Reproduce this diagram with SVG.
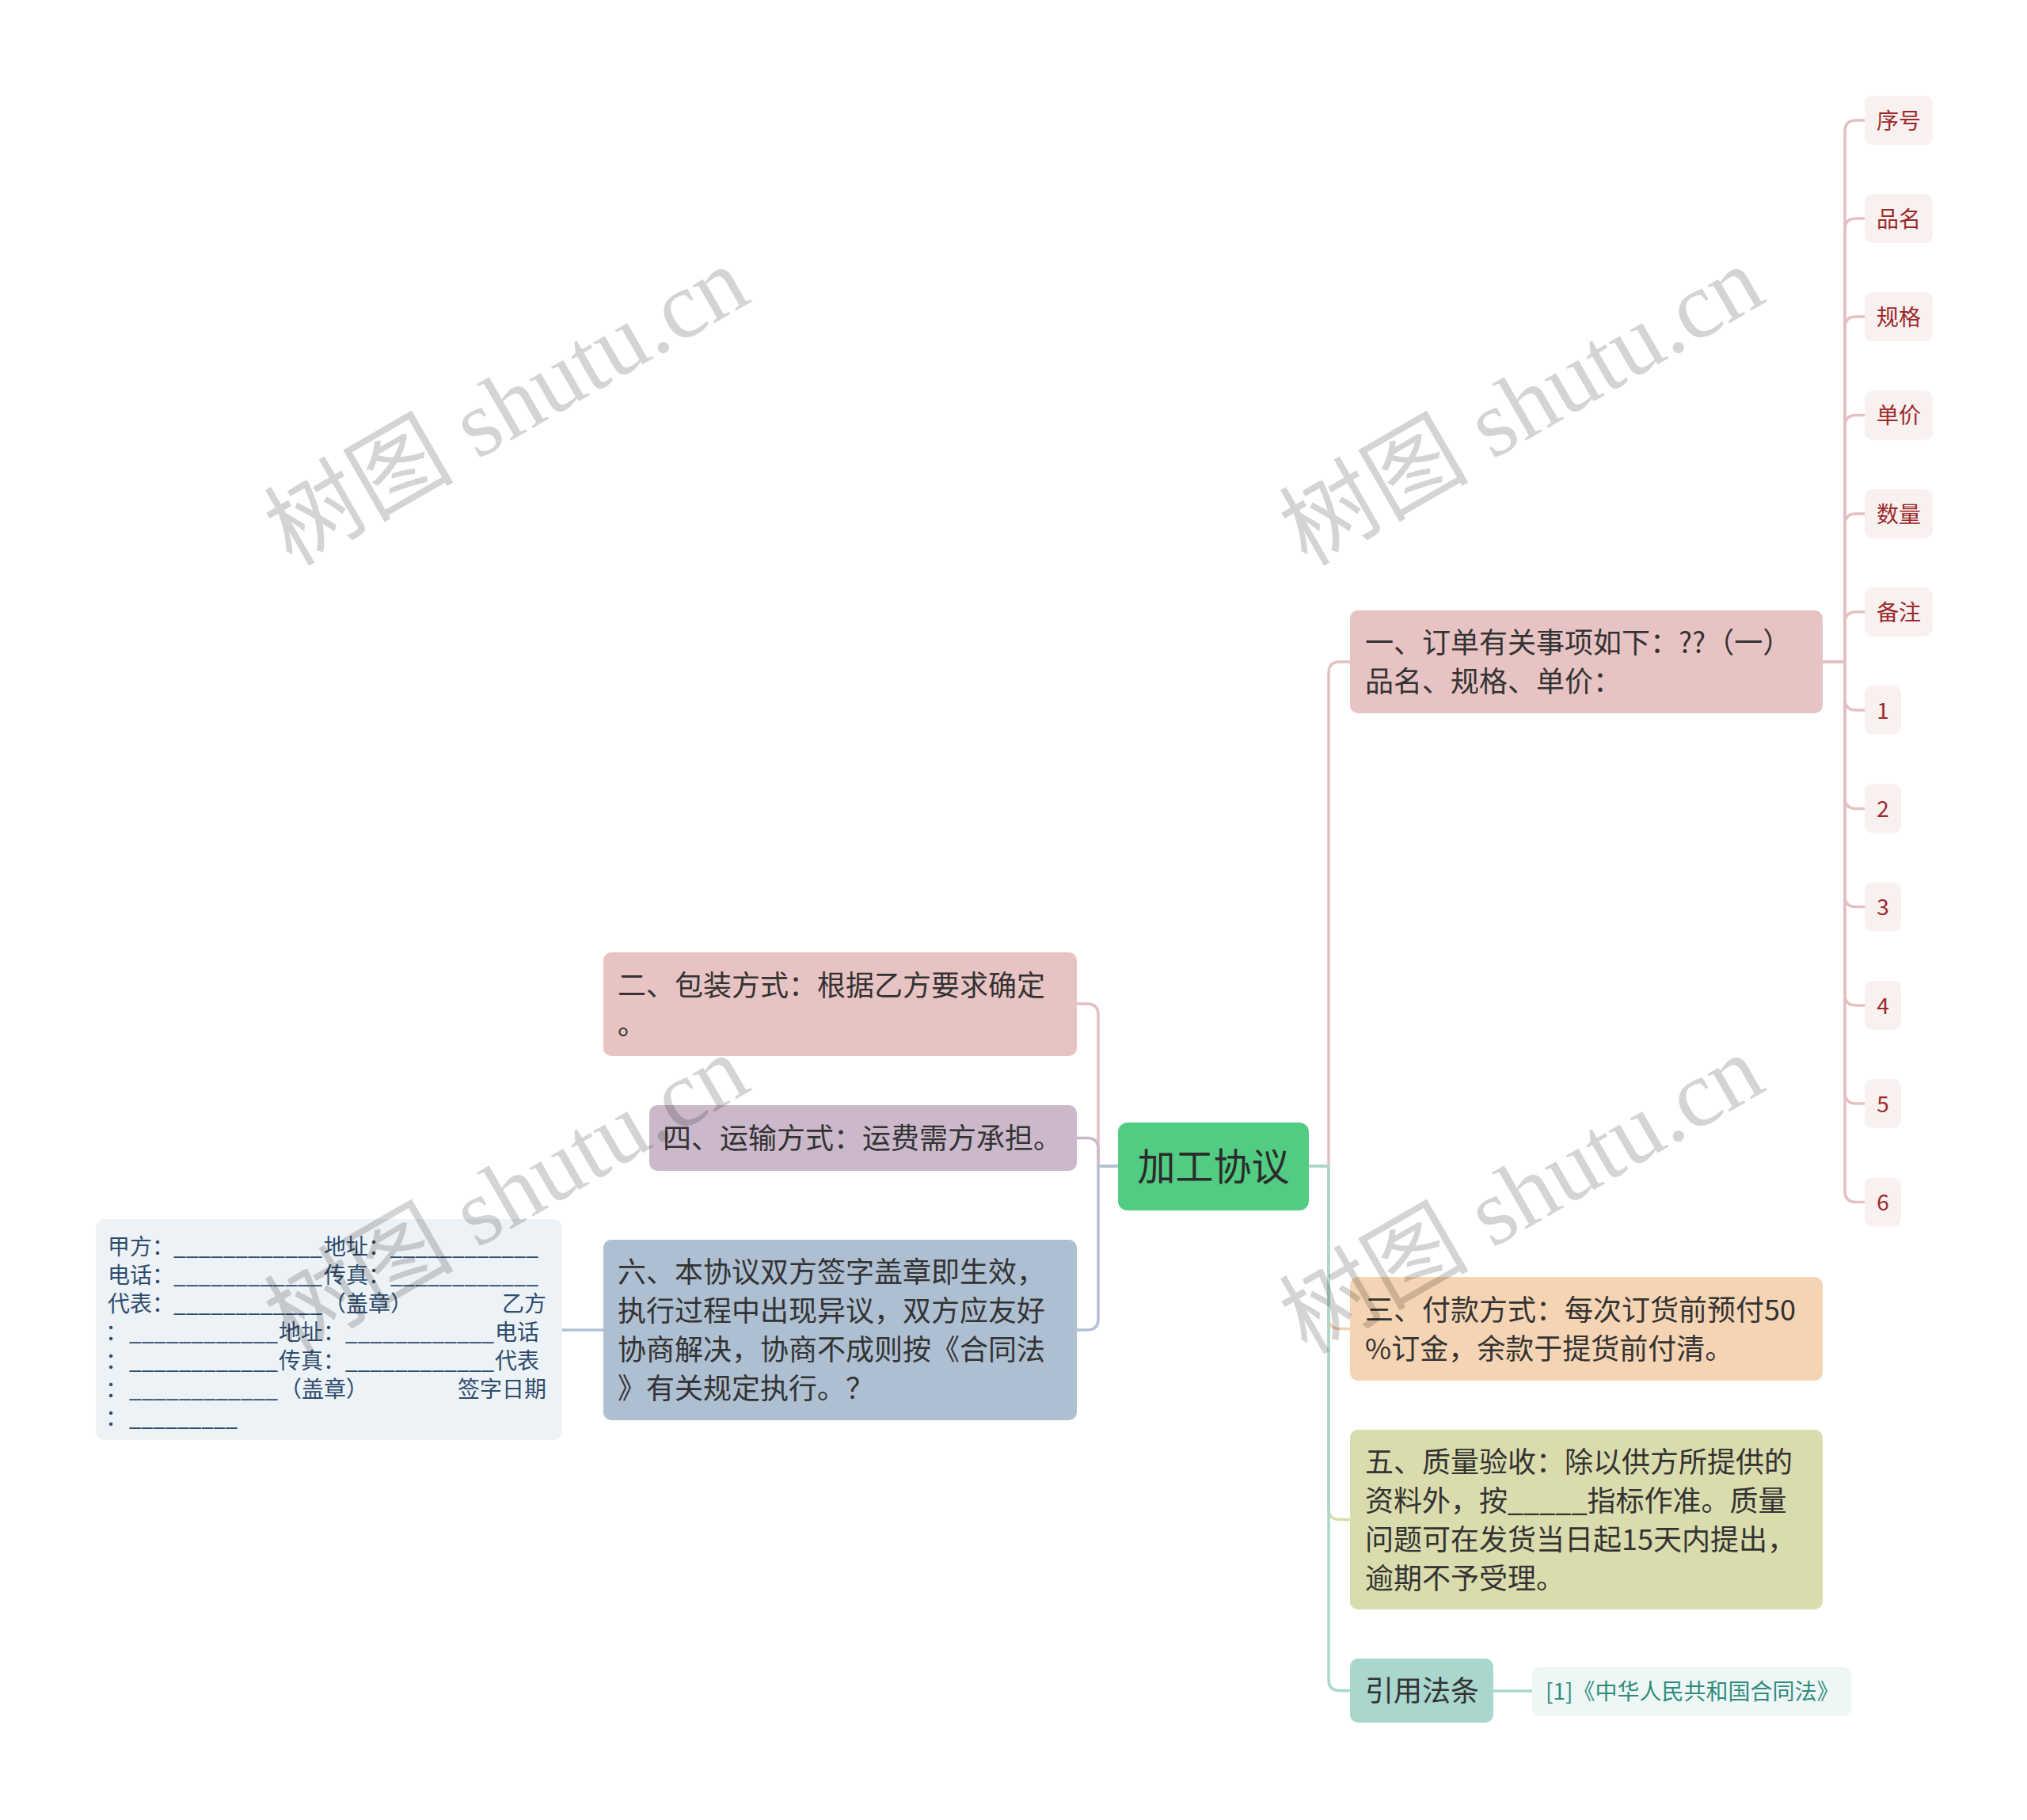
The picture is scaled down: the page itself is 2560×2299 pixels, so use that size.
<svg xmlns="http://www.w3.org/2000/svg" width="2560" height="2299" viewBox="0 0 2560 2299">
<style>
text{font-family:"Noto Sans CJK SC","Liberation Sans",sans-serif;}
.t36{font-size:36px;fill:#333333;}
.t48{font-size:48px;fill:#2b2b2b;}
.leaf{font-size:28px;fill:#9c2a2a;}
.lb{font-size:28px;fill:#2e4c6d;}
.cite{font-size:28px;fill:#2f8c7c;}
.wm{font-family:"Liberation Serif","Noto Sans CJK SC",serif;font-size:120px;fill:#000000;fill-opacity:0.17;}
.c{fill:none;stroke-width:3.5;stroke-linecap:round;stroke-linejoin:round;}
.pink{stroke:#e4c0c1;}
.mauve{stroke:#ccb9cc;}
.blue{stroke:#b1c1d3;}
.orange{stroke:#f2d0ae;}
.olive{stroke:#d9dbab;}
.teal{stroke:#a9d6cd;}
.leafbox{fill:#f9f0f0;}
</style>
<rect width="2560" height="2299" fill="#ffffff"/>
<g id="connectors">
  <path class="c pink" d="M1412 1473 H1387 V1282 Q1387 1268 1373 1268 H1360"/>
  <path class="c mauve" d="M1412 1473 H1387 V1451.5 Q1387 1437.5 1373 1437.5 H1360"/>
  <path class="c blue" d="M1412 1473 H1387 V1666 Q1387 1680 1373 1680 H1360"/>
  <path class="c blue" d="M762 1680 H710"/>
  <path class="c pink" d="M1653 1473 H1678 V850 Q1678 836 1692 836 H1705"/>
  <path class="c orange" d="M1653 1473 H1678 V1664.5 Q1678 1678.5 1692 1678.5 H1705"/>
  <path class="c olive" d="M1653 1473 H1678 V1905.5 Q1678 1919.5 1692 1919.5 H1705"/>
  <path class="c teal" d="M1653 1473 H1678 V2121.5 Q1678 2135.5 1692 2135.5 H1705"/>
  <path class="c teal" d="M1886 2136 H1935"/>
  <path class="c pink" d="M2302 836 H2330 V166 Q2330 152 2344 152 H2355"/>
  <path class="c pink" d="M2302 836 H2330 V290 Q2330 276 2344 276 H2355"/>
  <path class="c pink" d="M2302 836 H2330 V414 Q2330 400 2344 400 H2355"/>
  <path class="c pink" d="M2302 836 H2330 V538.5 Q2330 524.5 2344 524.5 H2355"/>
  <path class="c pink" d="M2302 836 H2330 V663 Q2330 649 2344 649 H2355"/>
  <path class="c pink" d="M2302 836 H2330 V787 Q2330 773 2344 773 H2355"/>
  <path class="c pink" d="M2302 836 H2330 V883 Q2330 897 2344 897 H2355"/>
  <path class="c pink" d="M2302 836 H2330 V1007.5 Q2330 1021.5 2344 1021.5 H2355"/>
  <path class="c pink" d="M2302 836 H2330 V1131.5 Q2330 1145.5 2344 1145.5 H2355"/>
  <path class="c pink" d="M2302 836 H2330 V1256 Q2330 1270 2344 1270 H2355"/>
  <path class="c pink" d="M2302 836 H2330 V1380 Q2330 1394 2344 1394 H2355"/>
  <path class="c pink" d="M2302 836 H2330 V1504.5 Q2330 1518.5 2344 1518.5 H2355"/>
</g>
<g id="node-center">
  <rect x="1412" y="1418" width="241" height="111" rx="12" fill="#52cc82"/>
  <text class="t48" x="1532.5" y="1491" text-anchor="middle">加工协议</text>
</g>
<g id="node-1">
  <rect x="1705" y="771" width="597" height="130" rx="10" fill="#e8c3c4"/>
  <text class="t36" x="1724" y="825">一、订单有关事项如下：??（一）</text>
  <text class="t36" x="1724" y="874">品名、规格、单价：</text>
</g>
<g id="node-2">
  <rect x="762" y="1203" width="598" height="131" rx="10" fill="#e8c3c4"/>
  <text class="t36" x="780" y="1258">二、包装方式：根据乙方要求确定</text>
  <text class="t36" x="780" y="1307">。</text>
</g>
<g id="node-4">
  <rect x="820" y="1396" width="540" height="83" rx="10" fill="#cbb9cb"/>
  <text class="t36" x="837" y="1451">四、运输方式：运费需方承担。</text>
</g>
<g id="node-6">
  <rect x="762" y="1566" width="598" height="228" rx="10" fill="#aebfd1"/>
  <text class="t36" x="780" y="1620">六、本协议双方签字盖章即生效，</text>
  <text class="t36" x="780" y="1669">执行过程中出现异议，双方应友好</text>
  <text class="t36" x="780" y="1718">协商解决，协商不成则按《合同法</text>
  <text class="t36" x="780" y="1767">》有关规定执行。？</text>
</g>
<g id="node-sign">
  <rect x="121" y="1540" width="589" height="279" rx="12" fill="#edf2f6"/>
  <text class="lb" x="136" y="1585">甲方：</text>
  <text class="lb" x="219" y="1585" textLength="188" lengthAdjust="spacingAndGlyphs">____________</text>
  <text class="lb" x="409" y="1585">地址：</text>
  <text class="lb" x="493" y="1585" textLength="187" lengthAdjust="spacingAndGlyphs">____________</text>
  <text class="lb" x="136" y="1621">电话：</text>
  <text class="lb" x="219" y="1621" textLength="188" lengthAdjust="spacingAndGlyphs">____________</text>
  <text class="lb" x="409" y="1621">传真：</text>
  <text class="lb" x="493" y="1621" textLength="187" lengthAdjust="spacingAndGlyphs">____________</text>
  <text class="lb" x="136" y="1657">代表：</text>
  <text class="lb" x="219" y="1657" textLength="188" lengthAdjust="spacingAndGlyphs">____________</text>
  <text class="lb" x="409" y="1657">（盖章）</text>
  <text class="lb" x="690" y="1657" text-anchor="end">乙方</text>
  <text class="lb" x="133" y="1693">：</text>
  <text class="lb" x="163" y="1693" textLength="188" lengthAdjust="spacingAndGlyphs">____________</text>
  <text class="lb" x="352" y="1693">地址：</text>
  <text class="lb" x="436" y="1693" textLength="188" lengthAdjust="spacingAndGlyphs">____________</text>
  <text class="lb" x="681" y="1693" text-anchor="end">电话</text>
  <text class="lb" x="133" y="1729">：</text>
  <text class="lb" x="163" y="1729" textLength="188" lengthAdjust="spacingAndGlyphs">____________</text>
  <text class="lb" x="352" y="1729">传真：</text>
  <text class="lb" x="436" y="1729" textLength="188" lengthAdjust="spacingAndGlyphs">____________</text>
  <text class="lb" x="681" y="1729" text-anchor="end">代表</text>
  <text class="lb" x="133" y="1765">：</text>
  <text class="lb" x="163" y="1765" textLength="188" lengthAdjust="spacingAndGlyphs">____________</text>
  <text class="lb" x="353" y="1765">（盖章）</text>
  <text class="lb" x="690" y="1765" text-anchor="end">签字日期</text>
  <text class="lb" x="133" y="1801">：</text>
  <text class="lb" x="163" y="1801" textLength="137" lengthAdjust="spacingAndGlyphs">_________</text>
</g>
<g id="node-3">
  <rect x="1705" y="1613" width="597" height="131" rx="10" fill="#f5d4b3"/>
  <text class="t36" x="1724" y="1668">三、付款方式：每次订货前预付50</text>
  <text class="t36" x="1724" y="1717">%订金，余款于提货前付清。</text>
</g>
<g id="node-5">
  <rect x="1705" y="1806" width="597" height="227" rx="10" fill="#dbdcad"/>
  <text class="t36" x="1724" y="1860">五、质量验收：除以供方所提供的</text>
  <text class="t36" x="1724" y="1909">资料外，按_____指标作准。质量</text>
  <text class="t36" x="1724" y="1958">问题可在发货当日起15天内提出，</text>
  <text class="t36" x="1724" y="2007">逾期不予受理。</text>
</g>
<g id="node-law">
  <rect x="1705" y="2095" width="181" height="81" rx="10" fill="#a9d6cd"/>
  <text class="t36" x="1724" y="2149">引用法条</text>
</g>
<g id="node-cite">
  <rect x="1935" y="2106" width="403" height="62" rx="10" fill="#eef7f5"/>
  <text class="cite" x="1952" y="2147">[1]《中华人民共和国合同法》</text>
</g>
<g id="leaf-0"><rect class="leafbox" x="2355" y="121" width="86" height="62" rx="10"/><text class="leaf" x="2370" y="162.5">序号</text></g>
<g id="leaf-1"><rect class="leafbox" x="2355" y="245" width="86" height="62" rx="10"/><text class="leaf" x="2370" y="286.5">品名</text></g>
<g id="leaf-2"><rect class="leafbox" x="2355" y="369" width="86" height="62" rx="10"/><text class="leaf" x="2370" y="410.5">规格</text></g>
<g id="leaf-3"><rect class="leafbox" x="2355" y="493.5" width="86" height="62" rx="10"/><text class="leaf" x="2370" y="535">单价</text></g>
<g id="leaf-4"><rect class="leafbox" x="2355" y="618" width="86" height="62" rx="10"/><text class="leaf" x="2370" y="659.5">数量</text></g>
<g id="leaf-5"><rect class="leafbox" x="2355" y="742" width="86" height="62" rx="10"/><text class="leaf" x="2370" y="783.5">备注</text></g>
<g id="leaf-6"><rect class="leafbox" x="2355" y="866" width="46" height="62" rx="10"/><text class="leaf" x="2378" y="907.5" text-anchor="middle">1</text></g>
<g id="leaf-7"><rect class="leafbox" x="2355" y="990.5" width="46" height="62" rx="10"/><text class="leaf" x="2378" y="1032" text-anchor="middle">2</text></g>
<g id="leaf-8"><rect class="leafbox" x="2355" y="1114.5" width="46" height="62" rx="10"/><text class="leaf" x="2378" y="1156" text-anchor="middle">3</text></g>
<g id="leaf-9"><rect class="leafbox" x="2355" y="1239" width="46" height="62" rx="10"/><text class="leaf" x="2378" y="1280.5" text-anchor="middle">4</text></g>
<g id="leaf-10"><rect class="leafbox" x="2355" y="1363" width="46" height="62" rx="10"/><text class="leaf" x="2378" y="1404.5" text-anchor="middle">5</text></g>
<g id="leaf-11"><rect class="leafbox" x="2355" y="1487.5" width="46" height="62" rx="10"/><text class="leaf" x="2378" y="1529" text-anchor="middle">6</text></g>
<g id="watermarks">
  <text class="wm" x="660" y="548" text-anchor="middle" transform="rotate(-30 660 548)">树图 shutu.cn</text>
  <text class="wm" x="1942" y="548" text-anchor="middle" transform="rotate(-30 1942 548)">树图 shutu.cn</text>
  <text class="wm" x="660" y="1544" text-anchor="middle" transform="rotate(-30 660 1544)">树图 shutu.cn</text>
  <text class="wm" x="1942" y="1544" text-anchor="middle" transform="rotate(-30 1942 1544)">树图 shutu.cn</text>
</g>
</svg>
